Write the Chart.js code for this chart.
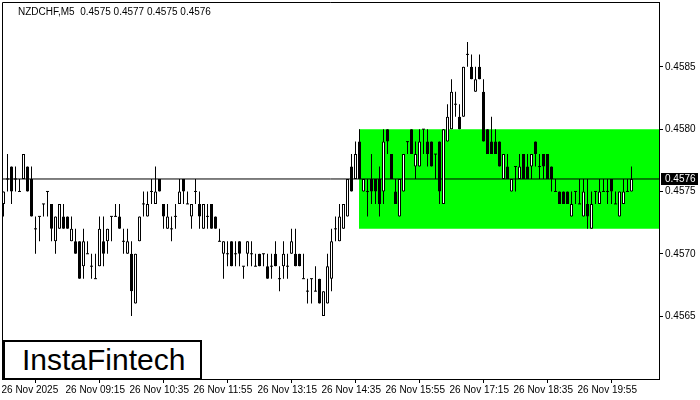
<!DOCTYPE html>
<html>
<head>
<meta charset="utf-8">
<script src="https://cdn.jsdelivr.net/npm/chart.js@4.4.1/dist/chart.umd.min.js"></script>
<style>
  html, body { margin: 0; padding: 0; background: #fff; }
  #wrap { position: relative; width: 700px; height: 400px; }
  #chart { position: absolute; left: 0; top: 0; }
  #title { position: absolute; left: 18px; top: 6px; font: 10px "Liberation Sans", Arial, sans-serif; color: #000; white-space: pre; }
  #logo { position: absolute; left: 3px; top: 340px; width: 178px; height: 36px; padding-left: 17px; border: 2px solid #000; background: #fff;
          font: 30px "Liberation Sans", Arial, sans-serif; line-height: 36px; color: #000; }
</style>
</head>
<body>
<div id="wrap">
  <canvas id="chart" width="700" height="400"></canvas>
  <div id="title"></div>
  <div id="logo">InstaFintech</div>
</div>
<script>
// NZDCHF M5 candles (one per 5 minutes, first one 07:55)
const opens = [
  0.4574,0.4576,0.4577,0.4576,0.4575,0.4576,0.4577,0.4576,0.4572,0.4573,
  0.4574,0.4575,0.4574,0.4571,0.4572,0.4573,0.4573,0.4571,0.4571,0.4571,
  0.4569,0.4570,0.4569,0.4568,0.4569,0.4571,0.4571,0.4573,0.4573,0.4573,
  0.4571,0.4570,0.4570,0.4566,0.4571,0.4574,0.4573,0.4575,0.4574,0.4576,
  0.4574,0.4572,0.4572,0.4573,0.4574,0.4576,0.4574,0.4573,0.4575,0.4574,
  0.4572,0.4573,0.4574,0.4573,0.4571,0.4570,0.4570,0.4571,0.4570,0.4571,
  0.4569,0.4570,0.4570,0.4569,0.4570,0.4570,0.4569,0.4569,0.4570,0.4568,
  0.4569,0.4569,0.4570,0.4570,0.4570,0.4568,0.4567,0.4568,0.4567,0.4568,
  0.4565,0.4566,0.4568,0.4572,0.4571,0.4572,0.4573,0.4577,0.4576,0.4579,
  0.4575,0.4575,0.4576,0.4576,0.4576,0.4575,0.4580,0.4578,0.4575,0.4573,
  0.4575,0.4579,0.4580,0.4577,0.4577,0.4580,0.4579,0.4579,0.4578,0.4579,
  0.4574,0.4579,0.4580,0.4582,0.4581,0.4581,0.4586,0.4585,0.4583,0.4585,
  0.4583,0.4580,0.4579,0.4579,0.4579,0.4576,0.4577,0.4575,0.4577,0.4576,
  0.4578,0.4577,0.4577,0.4579,0.4577,0.4578,0.4578,0.4577,0.4575,0.4575,
  0.4575,0.4575,0.4573,0.4575,0.4574,0.4573,0.4574,0.4572,0.4575,0.4574,
  0.4575,0.4575,0.4576,0.4574,0.4573,0.4574,0.4575,0.4575
];
const highs = [
  0.4575,0.4578,0.4577,0.4577,0.4576,0.4578,0.4577,0.4577,0.4573,0.4573,
  0.4574,0.4575,0.4574,0.4573,0.4574,0.4574,0.4573,0.4573,0.4572,0.4571,
  0.4572,0.4571,0.4570,0.4570,0.4573,0.4573,0.4572,0.4573,0.4574,0.4574,
  0.4572,0.4572,0.4571,0.4570,0.4573,0.4575,0.4575,0.4576,0.4577,0.4576,
  0.4574,0.4574,0.4573,0.4574,0.4576,0.4576,0.4575,0.4574,0.4576,0.4575,
  0.4574,0.4574,0.4574,0.4573,0.4572,0.4571,0.4571,0.4571,0.4571,0.4571,
  0.4569,0.4571,0.4571,0.4570,0.4570,0.4570,0.4570,0.4570,0.4571,0.4569,
  0.4571,0.4570,0.4572,0.4572,0.4570,0.4570,0.4568,0.4568,0.4569,0.4568,
  0.4567,0.4570,0.4572,0.4573,0.4574,0.4574,0.4576,0.4578,0.4579,0.4580,
  0.4576,0.4576,0.4578,0.4576,0.4577,0.4580,0.4580,0.4578,0.4576,0.4576,
  0.4578,0.4579,0.4580,0.4579,0.4580,0.4580,0.4580,0.4579,0.4578,0.4579,
  0.4580,0.4582,0.4584,0.4583,0.4582,0.4585,0.4587,0.4586,0.4585,0.4586,
  0.4584,0.4580,0.4581,0.4580,0.4579,0.4578,0.4578,0.4576,0.4577,0.4578,
  0.4578,0.4578,0.4578,0.4579,0.4578,0.4578,0.4578,0.4577,0.4576,0.4575,
  0.4575,0.4575,0.4575,0.4575,0.4576,0.4576,0.4576,0.4575,0.4575,0.4576,
  0.4576,0.4576,0.4576,0.4575,0.4575,0.4576,0.4576,0.4577
];
const lows = [
  0.4573,0.4575,0.4574,0.4575,0.4575,0.4576,0.4575,0.4573,0.4570,0.4571,
  0.4573,0.4573,0.4571,0.4570,0.4572,0.4572,0.4572,0.4571,0.4570,0.4568,
  0.4568,0.4570,0.4568,0.4568,0.4569,0.4569,0.4570,0.4571,0.4573,0.4572,
  0.4570,0.4570,0.4565,0.4566,0.4571,0.4573,0.4573,0.4574,0.4574,0.4575,
  0.4572,0.4572,0.4571,0.4572,0.4574,0.4574,0.4574,0.4572,0.4574,0.4572,
  0.4572,0.4572,0.4572,0.4572,0.4571,0.4568,0.4569,0.4569,0.4569,0.4569,
  0.4568,0.4569,0.4569,0.4569,0.4569,0.4569,0.4568,0.4568,0.4569,0.4567,
  0.4568,0.4568,0.4570,0.4569,0.4569,0.4568,0.4566,0.4566,0.4567,0.4566,
  0.4565,0.4566,0.4567,0.4571,0.4571,0.4572,0.4573,0.4575,0.4576,0.4576,
  0.4575,0.4573,0.4574,0.4574,0.4573,0.4574,0.4578,0.4576,0.4574,0.4573,
  0.4575,0.4578,0.4578,0.4576,0.4577,0.4578,0.4577,0.4577,0.4576,0.4574,
  0.4574,0.4579,0.4580,0.4581,0.4580,0.4581,0.4585,0.4584,0.4583,0.4584,
  0.4579,0.4578,0.4578,0.4578,0.4577,0.4576,0.4576,0.4575,0.4575,0.4576,
  0.4576,0.4576,0.4576,0.4577,0.4576,0.4576,0.4576,0.4575,0.4575,0.4574,
  0.4574,0.4574,0.4573,0.4574,0.4574,0.4573,0.4572,0.4572,0.4574,0.4574,
  0.4575,0.4574,0.4574,0.4574,0.4573,0.4574,0.4575,0.4575
];
const closes = [
  0.4575,0.4576,0.4575,0.4576,0.4575,0.4578,0.4575,0.4573,0.4572,0.4573,
  0.4574,0.4575,0.4572,0.4573,0.4574,0.4572,0.4572,0.4572,0.4570,0.4568,
  0.4571,0.4570,0.4569,0.4568,0.4572,0.4570,0.4572,0.4573,0.4573,0.4572,
  0.4571,0.4571,0.4567,0.4570,0.4573,0.4574,0.4574,0.4575,0.4575,0.4575,
  0.4573,0.4573,0.4572,0.4573,0.4575,0.4575,0.4574,0.4574,0.4575,0.4573,
  0.4574,0.4573,0.4572,0.4572,0.4571,0.4571,0.4570,0.4569,0.4570,0.4570,
  0.4569,0.4571,0.4570,0.4569,0.4569,0.4570,0.4568,0.4569,0.4569,0.4568,
  0.4570,0.4569,0.4571,0.4569,0.4569,0.4568,0.4567,0.4568,0.4567,0.4566,
  0.4567,0.4569,0.4571,0.4572,0.4573,0.4574,0.4576,0.4575,0.4578,0.4576,
  0.4576,0.4575,0.4575,0.4575,0.4574,0.4579,0.4579,0.4576,0.4574,0.4576,
  0.4578,0.4579,0.4578,0.4578,0.4579,0.4580,0.4578,0.4577,0.4578,0.4575,
  0.4580,0.4581,0.4583,0.4582,0.4580,0.4585,0.4586,0.4584,0.4584,0.4584,
  0.4579,0.4578,0.4578,0.4578,0.4577,0.4578,0.4576,0.4576,0.4577,0.4577,
  0.4576,0.4576,0.4578,0.4578,0.4577,0.4577,0.4576,0.4576,0.4575,0.4574,
  0.4574,0.4574,0.4574,0.4575,0.4574,0.4575,0.4573,0.4574,0.4575,0.4575,
  0.4575,0.4575,0.4575,0.4574,0.4575,0.4575,0.4575,0.4576
];

// time axis labels (candle index -> text)
const tickIndex = [0, 16, 32, 48, 64, 80, 96, 112, 128, 144];
const tickLabels = ['26 Nov 2025', '26 Nov 09:15', '26 Nov 10:35', '26 Nov 11:55', '26 Nov 13:15',
                    '26 Nov 14:35', '26 Nov 15:55', '26 Nov 17:15', '26 Nov 18:35', '26 Nov 19:55'];
const priceTicks = [0.4565, 0.4570, 0.4575, 0.4580, 0.4585];

// green rectangle (range zone), starts at candle 89
const zoneStart = 88.875;
const zoneTop = 0.4580;
const zoneBottom = 0.4572;

// visible window
const xMin = -0.375, xMax = 163.875;
const yMin = 0.4559949, yMax = 0.4590205;

const last = closes.length - 1;
document.getElementById('title').textContent = 'NZDCHF,M5  ' +
    [opens[last], highs[last], lows[last], closes[last]].map(v => v.toFixed(4)).join(' ');

const idx = closes.map((_, i) => i);
const wicks = idx.map(i => ({x: i, y: [lows[i], highs[i]]}));
const bodies = idx.filter(i => opens[i] !== closes[i]).map(i => ({x: i, y: [opens[i], closes[i]]}));
const bodyColors = bodies.map(d => d.y[1] > d.y[0] ? '#ffffff' : '#000000');  // bull hollow, bear black
const dojis = idx.filter(i => opens[i] === closes[i]).map(i => ({x: i, y: opens[i]}));

const font = {family: '"Liberation Sans", Arial, sans-serif', size: 10};

const framePlugin = {
    id: 'frame',
    afterDraw(chart) {
        const {ctx, chartArea: a} = chart;
        ctx.save();
        ctx.strokeStyle = '#000';
        ctx.lineWidth = 1;
        ctx.beginPath();
        ctx.moveTo(a.left + 0.5, a.bottom);
        ctx.lineTo(a.left + 0.5, a.top + 0.5);
        ctx.lineTo(a.right, a.top + 0.5);
        ctx.stroke();
        // current price tag on the price scale
        const y = Math.round(chart.scales.y.getPixelForValue(closes[last]));
        ctx.fillStyle = '#000';
        ctx.fillRect(a.right + 2, y - 6, 37, 12);
        ctx.fillStyle = '#fff';
        ctx.font = '10px "Liberation Sans", Arial, sans-serif';
        ctx.textBaseline = 'middle';
        ctx.fillText(closes[last].toFixed(4), a.right + 6, y);
        ctx.restore();
    }
};

new Chart('chart', {
    type: 'bar',
    data: {
        datasets: [
            {
                type: 'line',
                data: [{x: zoneStart, y: zoneTop}, {x: xMax, y: zoneTop}],
                fill: {value: zoneBottom},
                backgroundColor: '#00ff00',
                borderWidth: 0,
                pointRadius: 0,
                order: 5
            },
            {
                type: 'line',
                data: [{x: xMin, y: closes[last]}, {x: xMax, y: closes[last]}],
                borderColor: '#000',
                borderWidth: 1,
                pointRadius: 0,
                order: 4
            },
            {
                data: wicks,
                backgroundColor: '#000',
                borderWidth: 0,
                barThickness: 1,
                grouped: false,
                inflateAmount: 0,
                order: 3
            },
            {
                data: bodies,
                backgroundColor: bodyColors,
                borderColor: '#000',
                borderWidth: 1,
                borderSkipped: false,
                barThickness: 3,
                grouped: false,
                inflateAmount: 0,
                order: 2
            },
            {
                type: 'line',
                data: dojis,
                showLine: false,
                pointStyle: 'line',
                pointRadius: 1.5,
                borderColor: '#000',
                borderWidth: 1,
                order: 1
            }
        ]
    },
    options: {
        responsive: false,
        animation: false,
        events: [],
        layout: {autoPadding: false, padding: {left: 2, top: 2, right: 0, bottom: 0}},
        plugins: {legend: {display: false}, tooltip: {enabled: false}},
        scales: {
            x: {
                type: 'linear',
                min: xMin,
                max: xMax,
                offset: false,
                grid: {drawOnChartArea: false, drawTicks: true, tickLength: 4, color: '#000'},
                border: {display: true, color: '#000'},
                afterBuildTicks: s => { s.ticks = tickIndex.map(v => ({value: v})); },
                afterFit: s => { s.height = 21; s.paddingLeft = 0; s.paddingRight = 0; },
                ticks: {
                    autoSkip: false,
                    maxRotation: 0,
                    align: 'start',
                    labelOffset: -2,
                    padding: 1,
                    color: '#000',
                    font: font,
                    callback: v => tickLabels[tickIndex.indexOf(v)]
                }
            },
            y: {
                type: 'linear',
                position: 'right',
                min: yMin,
                max: yMax,
                grid: {drawOnChartArea: false, drawTicks: true, tickLength: 4, color: '#000'},
                border: {display: true, color: '#000'},
                afterBuildTicks: s => { s.ticks = priceTicks.map(v => ({value: v})); },
                afterFit: s => { s.width = 41; s.paddingTop = 0; s.paddingBottom = 0; },
                ticks: {
                    padding: 2,
                    color: '#000',
                    font: font,
                    callback: v => v.toFixed(4)
                }
            }
        }
    },
    plugins: [framePlugin]
});
</script>
</body>
</html>
